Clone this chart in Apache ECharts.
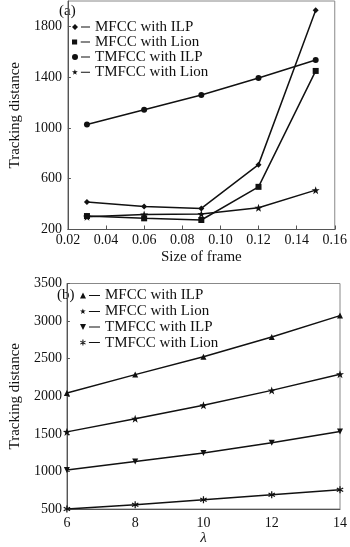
<!DOCTYPE html>
<html>
<head>
<meta charset="utf-8">
<script src="https://cdn.jsdelivr.net/npm/echarts@6/dist/echarts.min.js"></script>
<style>
html,body{margin:0;padding:0;background:#fff;}
#chart{width:350px;height:547px;}
</style>
</head>
<body>
<div id="chart"></div>
<script>
// ---- data ----
var frameSizes = [0.03, 0.06, 0.09, 0.12, 0.15];
var aMfccIlp   = [416, 382, 366, 711, 1927];
var aMfccLion  = [306, 288, 275, 536, 1449];
var aTmfccIlp  = [1027, 1143, 1260, 1394, 1535];
var aTmfccLion = [300, 319, 322, 371, 510];

var lambdas    = [6, 8, 10, 12, 14];
var bMfccIlp   = [2044, 2288, 2525, 2788, 3073];
var bMfccLion  = [1526, 1702, 1881, 2078, 2294];
var bTmfccIlp  = [1018, 1131, 1246, 1381, 1531];
var bTmfccLion = [500, 558, 624, 689, 755];

var seriesNames = ['MFCC with ILP', 'MFCC with Lion', 'TMFCC with ILP', 'TMFCC with Lion'];
var yTicksA = [200, 600, 1000, 1400, 1800];
var yTicksB = [500, 1000, 1500, 2000, 2500, 3000, 3500];

// ---- styling ----
var FONT = "'Liberation Serif', 'Times New Roman', serif";
var INK = '#111';
var SYM = {
  diamond: 'M3,0 L6,3 L3,6 L0,3 Z',
  square: 'M0.5,0.5 L5.5,0.5 L5.5,5.5 L0.5,5.5 Z',
  circle: 'M0,3 A3,3 0 1,1 6,3 A3,3 0 1,1 0,3 Z',
  star: 'M3,0 L3.705,2.029 L5.853,2.073 L4.141,3.371 L4.763,5.427 L3,4.2 L1.237,5.427 L1.859,3.371 L0.147,2.073 L2.295,2.029 Z',
  tri: 'M3,0 L6,6 L0,6 Z',
  triDown: 'M0,0 L6,0 L3,6 Z',
  asterisk: 'M2.5,0 L3.5,0 L3.5,6 L2.5,6 Z M0.152,1.933 L0.652,1.067 L5.848,4.067 L5.348,4.933 Z M5.348,1.067 L5.848,1.933 L0.652,4.933 L0.152,4.067 Z'
};
function legendIcon(sym, w) {
  return 'path://' + SYM[sym] + ' M9,2.5 L' + w + ',2.5 L' + w + ',3.5 L9,3.5 Z';
}
var symA = ['diamond', 'square', 'circle', 'star'];
var symSizeA = [6, 6, 6, 8];
var symB = ['tri', 'star', 'triDown', 'asterisk'];
var symSizeB = [6, 8, 6, 7];
var dataA = [aMfccIlp, aMfccLion, aTmfccIlp, aTmfccLion];
var dataB = [bMfccIlp, bMfccLion, bTmfccIlp, bTmfccLion];

function pairs(xs, ys) { return xs.map(function (x, i) { return [x, ys[i]]; }); }

var series = [];
seriesNames.forEach(function (n, i) {
  series.push({
    name: n, type: 'line', xAxisIndex: 0, yAxisIndex: 0,
    data: pairs(frameSizes, dataA[i]),
    symbol: 'path://' + SYM[symA[i]], symbolSize: symSizeA[i],
    lineStyle: { color: INK, width: 1.5 }, itemStyle: { color: INK },
    showAllSymbol: true, animation: false, z: 3
  });
});
seriesNames.forEach(function (n, i) {
  series.push({
    name: n, type: 'line', xAxisIndex: 1, yAxisIndex: 1,
    data: pairs(lambdas, dataB[i]),
    symbol: 'path://' + SYM[symB[i]], symbolSize: symSizeB[i],
    lineStyle: { color: INK, width: 1.5 }, itemStyle: { color: INK },
    showAllSymbol: true, animation: false, z: 3
  });
});

var axisLineStyle = { lineStyle: { color: '#555', width: 1 } };
var labelStyle = { color: INK, fontFamily: FONT, fontSize: 14 };
var nameStyle = { color: INK, fontFamily: FONT, fontSize: 15 };

var option = {
  animation: false,
  backgroundColor: '#fff',
  textStyle: { fontFamily: FONT },
  grid: [
    { left: 54, right: 10, top: 1, bottom: 317.5, show: true, borderColor: '#888', borderWidth: 1 },
    { left: 54, right: 10, top: 283.5, bottom: 35.3, show: true, borderColor: '#888', borderWidth: 1 }
  ],
  xAxis: [
    {
      gridIndex: 0, type: 'value', min: 0.02, max: 0.16, interval: 0.02,
      name: 'Size of frame', nameLocation: 'middle', nameGap: 20, nameTextStyle: nameStyle,
      axisLine: axisLineStyle, axisTick: { inside: true, length: 4, lineStyle: { color: '#555' } },
      axisLabel: Object.assign({ margin: 4, formatter: function (v) { return v.toFixed(2); } }, labelStyle),
      splitLine: { show: false }
    },
    {
      gridIndex: 1, type: 'value', min: 6, max: 14, interval: 2,
      name: 'λ', nameLocation: 'middle', nameGap: 22,
      nameTextStyle: Object.assign({ fontStyle: 'italic' }, nameStyle),
      axisLine: axisLineStyle, axisTick: { show: false },
      axisLabel: Object.assign({ margin: 7, formatter: function (v) { return String(v); } }, labelStyle),
      splitLine: { show: false }
    }
  ],
  yAxis: [
    {
      gridIndex: 0, type: 'value', min: 200, max: 2000, interval: 200,
      name: 'Tracking distance', nameLocation: 'middle', nameGap: 39, nameTextStyle: nameStyle,
      axisLine: axisLineStyle,
      axisTick: { show: true, inside: true, length: 3, customValues: yTicksA, lineStyle: { color: '#555' } },
      axisLabel: Object.assign({ margin: 6, customValues: yTicksA,
        formatter: function (v) { return yTicksA.indexOf(v) >= 0 ? String(v) : ''; } }, labelStyle),
      splitLine: { show: false }
    },
    {
      gridIndex: 1, type: 'value', min: 500, max: 3500, interval: 500,
      name: 'Tracking distance', nameLocation: 'middle', nameGap: 39, nameTextStyle: nameStyle,
      axisLine: axisLineStyle,
      axisTick: { show: true, inside: true, length: 3, lineStyle: { color: '#555' } },
      axisLabel: Object.assign({ margin: 5,
        formatter: function (v) { return yTicksB.indexOf(v) >= 0 ? String(v) : ''; } }, labelStyle),
      splitLine: { show: false }
    }
  ],
  legend: [
    {
      orient: 'vertical', left: 72, top: 19.5, padding: 0, itemGap: 0,
      itemWidth: 18, itemHeight: 6, selectedMode: false,
      textStyle: { color: INK, fontFamily: FONT, fontSize: 15, lineHeight: 15 },
      data: seriesNames.map(function (n, i) { return { name: n, icon: legendIcon(symA[i], 18) }; })
    },
    {
      orient: 'vertical', left: 80, top: 288, padding: 0, itemGap: 0.7,
      itemWidth: 20, itemHeight: 6, selectedMode: false,
      textStyle: { color: INK, fontFamily: FONT, fontSize: 15, lineHeight: 15 },
      data: seriesNames.map(function (n, i) { return { name: n, icon: legendIcon(symB[i], 20) }; })
    }
  ],
  graphic: [
    { type: 'text', left: 59, top: 3.5, style: { text: '(a)', fill: INK, font: '15px ' + FONT } },
    { type: 'text', left: 57, top: 288, style: { text: '(b)', fill: INK, font: '15px ' + FONT } }
  ],
  series: series
};

var chart = echarts.init(document.getElementById('chart'), null, { renderer: 'canvas' });
chart.setOption(option);
</script>
</body>
</html>
